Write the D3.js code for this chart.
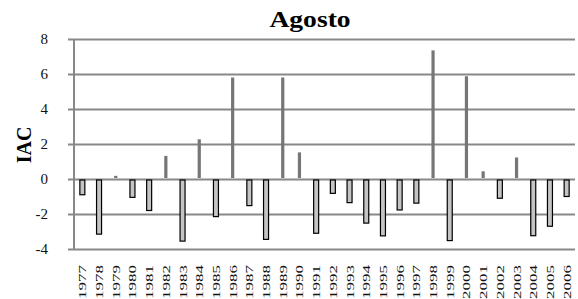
<!DOCTYPE html>
<html>
<head>
<meta charset="utf-8">
<script src="https://cdn.jsdelivr.net/npm/d3@7"></script>
<style>
  body { margin: 0; background: #fff; }
</style>
</head>
<body>
<svg id="chart" width="578" height="299"></svg>
<script>
// years and IAC values
const years = ['1977', '1978', '1979', '1980', '1981', '1982', '1983', '1984', '1985', '1986',
  '1987', '1988', '1989', '1990', '1991', '1992', '1993', '1994', '1995', '1996',
  '1997', '1998', '1999', '2000', '2001', '2002', '2003', '2004', '2005', '2006'];
const iac = [-0.9, -3.15, 0.18, -1.05, -1.8, 1.32, -3.55, 2.27, -2.15, 5.8,
  -1.52, -3.45, 5.8, 1.52, -3.1, -0.82, -1.35, -2.52, -3.25, -1.77,
  -1.38, 7.35, -3.52, 5.87, 0.44, -1.1, 1.23, -3.24, -2.7, -1.0];
const yTicks = [-4, -2, 0, 2, 4, 6, 8];

const chartLeft = 74;
const chartRight = 575;
const chartTop = 39;
const chartBottom = 249;
const gridColor = '#888';
const serif = "'Liberation Serif', 'Times New Roman', Times, serif";

const svg = d3.select('#chart');

const x = d3.scaleBand()
  .domain(years)
  .range([chartLeft, chartRight])
  .padding(0);

const y = d3.scaleLinear()
  .domain([-4, 8])
  .range([chartBottom, chartTop]);

// horizontal grid lines (with the little tick stubs on the left)
const yAxis = d3.axisLeft(y)
  .tickValues(yTicks)
  .tickSizeInner(-(chartRight - chartLeft))
  .tickSizeOuter(0)
  .tickPadding(0)
  .tickFormat('');

svg.append('g')
  .attr('transform', 'translate(' + chartRight + ',0)')
  .call(yAxis)
  .call(g => {
    g.select('.domain').remove();
    g.selectAll('.tick line')
      .attr('x1', -(chartRight - chartLeft) - 6)
      .attr('x2', 0)
      .attr('stroke', gridColor)
      .attr('stroke-width', 2);
  });

// vertical axis line
svg.append('line')
  .attr('x1', chartLeft).attr('x2', chartLeft)
  .attr('y1', y(8)).attr('y2', y(-4))
  .attr('stroke', gridColor)
  .attr('stroke-width', 2);

// tick labels
svg.append('g')
  .selectAll('text')
  .data(yTicks)
  .enter().append('text')
  .attr('x', 48)
  .attr('y', d => y(d))
  .attr('dy', '0.35em')
  .attr('text-anchor', 'end')
  .attr('font-family', serif)
  .attr('font-size', 15)
  .attr('fill', '#111')
  .text(d => d);

// bars
svg.append('g')
  .selectAll('rect')
  .data(iac)
  .enter().append('rect')
  .attr('x', (d, i) => x(years[i]) + x.bandwidth() / 2 - (d >= 0 ? 1.6 : 2.5))
  .attr('width', d => d >= 0 ? 3.2 : 5)
  .attr('y', d => d >= 0 ? y(d) : y(0) + 1)
  .attr('height', d => d >= 0 ? y(0) - y(d) - 1 : y(d) - y(0) - 1)
  .attr('fill', d => d >= 0 ? '#767676' : '#c4c4c4')
  .attr('stroke', d => d >= 0 ? 'none' : '#000')
  .attr('stroke-width', 1.2);

// year labels
svg.append('g')
  .selectAll('text')
  .data(years)
  .enter().append('text')
  .attr('transform', d => 'translate(' + (x(d) + x.bandwidth() / 2 + 4) + ',265) rotate(-90) scale(1.55,1)')
  .attr('text-anchor', 'end')
  .attr('font-family', serif)
  .attr('font-size', 11)
  .attr('fill', '#111')
  .text(d => d);

// title
svg.append('text')
  .attr('transform', 'translate(310,27) scale(1.2,1)')
  .attr('text-anchor', 'middle')
  .attr('font-family', serif)
  .attr('font-size', 23)
  .attr('font-weight', 'bold')
  .text('Agosto');

// y axis label
svg.append('text')
  .attr('transform', 'translate(31,145) rotate(-90)')
  .attr('text-anchor', 'middle')
  .attr('font-family', serif)
  .attr('font-size', 20)
  .attr('font-weight', 'bold')
  .text('IAC');
</script>
</body>
</html>
